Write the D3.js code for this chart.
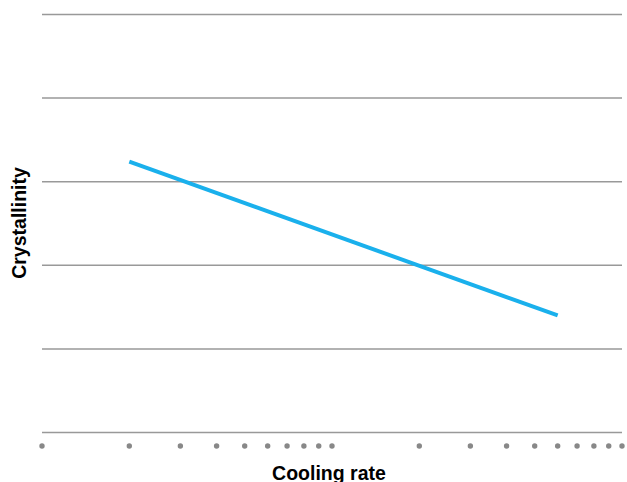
<!DOCTYPE html>
<html><head><meta charset="utf-8">
<script src="https://cdn.jsdelivr.net/npm/d3@7"></script>
<style>body{margin:0;background:#fff}</style>
</head><body>
<svg id="c" width="627" height="482"></svg>
<script>
const xDomain = [1, 100];
const xTicks = [1,2,3,4,5,6,7,8,9,10,20,30,40,50,60,70,80,90,100];
const yDomain = [0, 5];
const yTicks = [0,1,2,3,4,5];
const lineX = [2, 60];
const lineY = [3.24, 1.40];
const xTitle = "Cooling rate";
const yTitle = "Crystallinity";

const svg = d3.select("#c");
const x = d3.scaleLog().domain(xDomain).range([42, 622]);
const y = d3.scaleLinear().domain(yDomain).range([432.5, 14.5]);

svg.append("g").selectAll("line").data(yTicks).join("line")
  .attr("x1", 42).attr("x2", 622)
  .attr("y1", d => y(d)).attr("y2", d => y(d))
  .attr("stroke", "#999").attr("stroke-width", 1.5);

svg.append("g").selectAll("circle").data(xTicks).join("circle")
  .attr("cx", d => x(d)).attr("cy", 446).attr("r", 2.7)
  .attr("fill", "#888");

const pts = lineX.map((v,i)=>[v, lineY[i]]);
svg.append("path").datum(pts)
  .attr("d", d3.line().x(d=>x(d[0])).y(d=>y(d[1])))
  .attr("fill","none").attr("stroke","#1ab0ec").attr("stroke-width",4);

const ff = "Liberation Sans, Arial, sans-serif";
svg.append("text").attr("x", 329).attr("y", 479.5).attr("text-anchor","middle")
  .attr("font-family",ff).attr("font-size",19.5).attr("font-weight","bold")
  .attr("fill","#000").text(xTitle);
svg.append("text").attr("transform","translate(26,223) rotate(-90)").attr("text-anchor","middle")
  .attr("font-family",ff).attr("font-size",19.5).attr("font-weight","bold")
  .attr("fill","#000").text(yTitle);
</script>
</body></html>
